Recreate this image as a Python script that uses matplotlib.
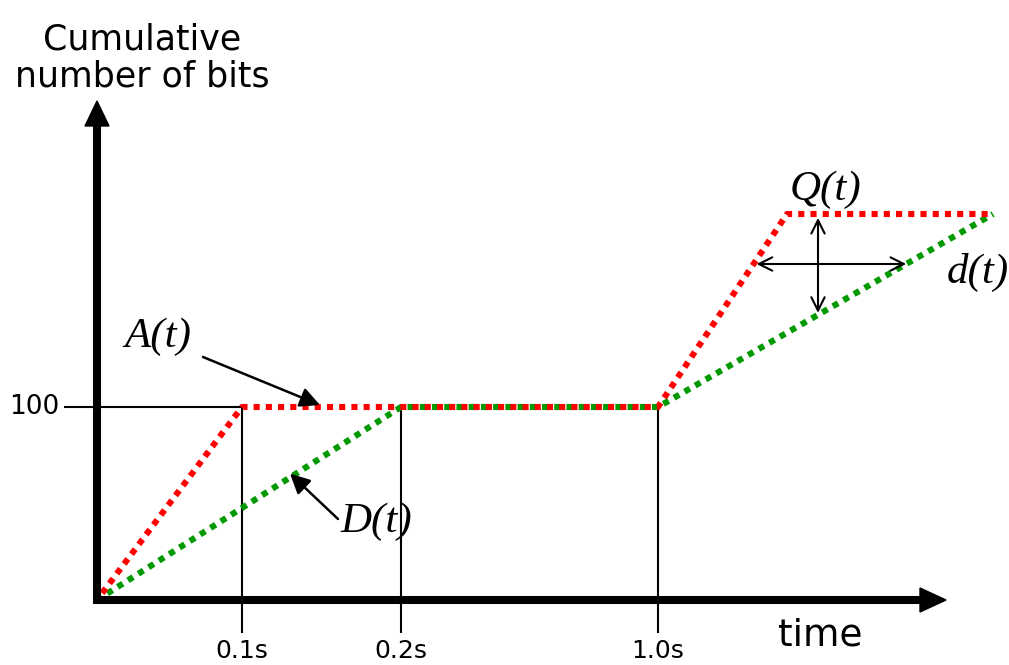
import matplotlib
matplotlib.use("Agg")
import matplotlib.pyplot as plt
from matplotlib.patches import Polygon
import numpy as np

# schematic time positions (not to scale) and cumulative bit counts
tick_pos = [1.45, 3.04, 5.61]
tick_labels = ["0.1s", "0.2s", "1.0s"]

arrival_t = [0.0, 1.45, 5.61, 6.90, 8.96]
arrival_bits = [0, 100, 100, 200, 200]

departure_t = [0.0, 3.04, 5.61, 8.96]
departure_bits = [0, 100, 100, 200]

level_bits = 100

W, H = 1009, 665
fig = plt.figure(figsize=(W / 100, H / 100), dpi=100)
ax = fig.add_axes([0, 0, 1, 1])
px_x = 100.0          # pixels per schematic unit
px_y = 1.93           # pixels per bit
x0, y0 = 97, 600      # origin in pixels (from top-left)
ax.set_xlim(-x0 / px_x, (W - x0) / px_x)
ax.set_ylim(-(H - y0) / px_y, y0 / px_y)
ax.axis("off")

def dx(p):
    return p / px_x

def dy(p):
    return p / px_y

# guide lines for the ticks and the 100-bit level
for xp in tick_pos:
    ax.plot([xp, xp], [-dy(32), level_bits], color="black", lw=1.5, zorder=2)
ax.plot([-dx(32), tick_pos[0]], [level_bits, level_bits], color="black", lw=1.5, zorder=2)

# curves
ax.plot(departure_t, departure_bits, color="#009900", lw=4.4,
        linestyle=(0, (1.0, 1.0)), dash_capstyle="butt", zorder=3)
ax.plot(arrival_t, arrival_bits, color="#ff0000", lw=4.4,
        linestyle=(0.6, (1.0, 1.0)), dash_capstyle="butt", zorder=4)

# thick axes with arrowheads
ax_lw = 5.8
ax.plot([0, 0], [0, dy(600 - 120)], color="black", lw=ax_lw,
        solid_capstyle="butt", zorder=5)
ax.plot([-dx(4), dx(922 - 97)], [0, 0], color="black", lw=ax_lw,
        solid_capstyle="butt", zorder=5)
ax.add_patch(Polygon([[-dx(12), dy(600 - 126)], [dx(12), dy(600 - 126)],
                      [0, dy(600 - 101)]], closed=True, color="black", zorder=6))
ax.add_patch(Polygon([[dx(920 - 97), dy(12)], [dx(920 - 97), -dy(12)],
                      [dx(946 - 97), 0]], closed=True, color="black", zorder=6))

# queue length and delay double arrows between the curves
q_x = dx(818 - 97)
q_top = np.interp(q_x, arrival_t, arrival_bits)
q_bot = np.interp(q_x, departure_t, departure_bits)
d_bits = dy(600 - 264)
d_left = np.interp(d_bits, arrival_bits[2:4], arrival_t[2:4])
d_right = np.interp(d_bits, departure_bits[2:4], departure_t[2:4])
arr_kw = dict(arrowstyle="<->", lw=1.5, color="black", mutation_scale=24,
              shrinkA=0, shrinkB=0)
ax.annotate("", xy=(q_x, q_top - 2), xytext=(q_x, q_bot + 1), arrowprops=arr_kw, zorder=7)
ax.annotate("", xy=(d_left + 0.03, d_bits), xytext=(d_right, d_bits), arrowprops=arr_kw, zorder=7)

# labels
sans = ["DejaVu Sans"]
serif_it = dict(family="Liberation Serif", style="italic", fontsize=31)
ax.text(dx(142 - 97), dy(600 - 58), "Cumulative\nnumber of bits", ha="center",
        va="center", fontsize=25, family=sans, linespacing=1.1)
ax.text(-dx(97 - 34), level_bits, "100", ha="center", va="center",
        fontsize=19, family=sans)
for xp, lab in zip(tick_pos, tick_labels):
    ax.text(xp, -dy(651 - 600), lab, ha="center", va="center", fontsize=18, family=sans)
ax.text(dx(820 - 97), -dy(636 - 600), "time", ha="center", va="center",
        fontsize=27, family=sans)

ax.text(dx(158 - 97), dy(600 - 337), "A(t)", ha="center", va="center", **serif_it)
ax.text(dx(376 - 97), dy(600 - 522), "D(t)", ha="center", va="center", **serif_it)
ax.text(dx(825 - 97), dy(600 - 190), "Q(t)", ha="center", va="center", **serif_it)
ax.text(dx(978 - 97), dy(600 - 272), "d(t)", ha="center", va="center", **serif_it)

# pointer arrows from labels to curves
ptr_kw = dict(arrowstyle="-|>", lw=1.8, color="black", mutation_scale=30,
              shrinkA=0, shrinkB=0)
ax.annotate("", xy=(dx(320 - 97), level_bits + 1), xytext=(dx(203 - 97), dy(600 - 357)),
            arrowprops=ptr_kw, zorder=7)
d_ptr_x = dx(290 - 97)
ax.annotate("", xy=(d_ptr_x, np.interp(d_ptr_x, departure_t, departure_bits) + 2),
            xytext=(dx(338 - 97), dy(600 - 519)), arrowprops=ptr_kw, zorder=7)

fig.savefig("out.png", dpi=100)
